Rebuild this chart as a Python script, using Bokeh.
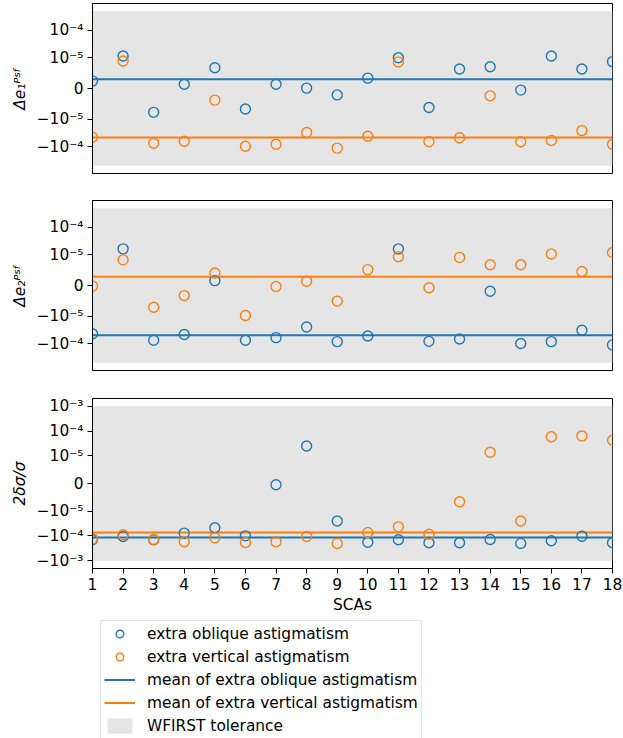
import numpy as np
from bokeh.plotting import figure
from bokeh.layouts import column
from bokeh.models import FixedTicker, Legend, LegendItem, Range1d
from bokeh.embed import file_html
from bokeh.resources import INLINE

# ---------------- data ----------------
scas = list(range(1, 19))
sca_labels = [str(s) for s in scas]

e1_oblique = [2.5e-6, 1.18e-5, -7.8e-6, 1.4e-6, 6.8e-6, -6.7e-6, 1.4e-6, 1.3e-7, -2.1e-6,
              3.4e-6, 1.02e-5, -6.2e-6, 6.4e-6, 7.1e-6, -5.2e-7, 1.18e-5, 6.4e-6, 8.8e-6]
e1_vertical = [-4.6e-5, 9.0e-6, -7.6e-5, -6.4e-5, -3.8e-6, -9.7e-5, -8.2e-5, -3.1e-5, -1.14e-4,
               -4.2e-5, 8.7e-6, -6.6e-5, -4.8e-5, -2.4e-6, -6.7e-5, -6.0e-5, -2.6e-5, -8.2e-5]
e2_oblique = [-4.4e-5, 1.66e-5, -7.6e-5, -4.7e-5, 1.6e-6, -7.6e-5, -6.1e-5, -2.5e-5, -8.5e-5,
              -5.3e-5, 1.66e-5, -8.3e-5, -6.8e-5, -1.9e-6, -1.0e-4, -8.5e-5, -3.3e-5, -1.12e-4]
e2_vertical = [-2e-7, 8.4e-6, -7.1e-6, -3.3e-6, 4.1e-6, -9.8e-6, -3e-7, 1.4e-6, -5.1e-6,
               5.2e-6, 9.4e-6, -7.5e-7, 9.2e-6, 6.8e-6, 6.8e-6, 1.09e-5, 4.6e-6, 1.22e-5]
size_oblique = [-1.43e-4, -1.06e-4, -1.43e-4, -7.7e-5, -4.7e-5, -9.9e-5, -4.7e-7, 2.5e-5, -2.5e-5,
                -1.79e-4, -1.43e-4, -1.89e-4, -1.89e-4, -1.39e-4, -2.0e-4, -1.57e-4, -1.03e-4, -1.89e-4]
size_vertical = [-1.31e-4, -9.0e-5, -1.39e-4, -1.72e-4, -1.19e-4, -1.84e-4, -1.72e-4, -1.06e-4, -2.0e-4,
                 -7.3e-5, -4.3e-5, -8.5e-5, -6.6e-6, 1.4e-5, -2.5e-5, 5.9e-5, 6.3e-5, 4.3e-5]

mean_e1 = [3.06e-6, -4.7e-5]     # oblique, vertical
mean_e2 = [-5.0e-5, 2.9e-6]
mean_size = [-1.16e-4, -7.3e-5]

tolerance_e = 5e-4
tolerance_size = 1e-3

ticks_e = [-1e-4, -1e-5, 0, 1e-5, 1e-4]
labels_e = ["\u221210\u207b\u2074", "\u221210\u207b\u2075", "0", "10\u207b\u2075", "10\u207b\u2074"]
ticks_s = [-1e-3, -1e-4, -1e-5, 0, 1e-5, 1e-4, 1e-3]
labels_s = ["\u221210\u207b\u00b3", "\u221210\u207b\u2074", "\u221210\u207b\u2075", "0",
            "10\u207b\u2075", "10\u207b\u2074", "10\u207b\u00b3"]

legend_labels = ["extra oblique astigmatism", "extra vertical astigmatism",
                 "mean of extra oblique astigmatism", "mean of extra vertical astigmatism",
                 "WFIRST tolerance"]

BLUE = "#1f77b4"
ORANGE = "#ff7f0e"
GREY = "#e5e5e5"
FS = "15.4px"
LINTHRESH = 1e-5


def symlog(v):
    v = np.asarray(v, dtype=float)
    adj = 1.0 / (1.0 - 0.1)
    a = np.abs(v)
    out = np.where(a <= LINTHRESH, a / LINTHRESH * adj,
                   adj + np.log10(np.maximum(a, LINTHRESH) / LINTHRESH))
    return np.sign(v) * out


def add_marks(p, oblique, vertical, means, tol):
    tt = float(symlog(tol))
    band = p.varea(x=[scas[0], scas[-1]], y1=[-tt, -tt], y2=[tt, tt], fill_color=GREY)
    l1 = p.line(x=[scas[0], scas[-1]], y=[float(symlog(means[0]))] * 2,
                line_color=BLUE, line_width=2)
    l2 = p.line(x=[scas[0], scas[-1]], y=[float(symlog(means[1]))] * 2,
                line_color=ORANGE, line_width=2)
    c1 = p.scatter(x=scas, y=symlog(oblique), marker="circle", size=10,
                   fill_color=None, line_color=BLUE, line_width=1.4)
    c2 = p.scatter(x=scas, y=symlog(vertical), marker="circle", size=10,
                   fill_color=None, line_color=ORANGE, line_width=1.4)
    return c1, c2, l1, l2, band


def make_panel(oblique, vertical, means, tol, ticks, labels, ylabel, top, bottom, show_x):
    lim = float(symlog(tol)) * 1.1
    p = figure(width=623, frame_width=520, frame_height=170,
               min_border_left=92, min_border_right=11,
               min_border_top=top, min_border_bottom=bottom,
               x_range=Range1d(scas[0], scas[-1]), y_range=Range1d(-lim, lim),
               output_backend="svg", toolbar_location=None)
    p.grid.visible = False
    p.outline_line_color = "black"
    p.outline_line_width = 1
    p.background_fill_color = "white"
    p.border_fill_color = "white"

    add_marks(p, oblique, vertical, means, tol)

    tpos = [float(t) for t in symlog(ticks)]
    p.yaxis.ticker = FixedTicker(ticks=tpos)
    p.yaxis.major_label_overrides = {t: lab for t, lab in zip(tpos, labels)}
    p.yaxis.minor_tick_line_color = None
    p.yaxis.major_tick_in = 0
    p.yaxis.major_tick_out = 5
    p.yaxis.major_label_text_font = "DejaVu Sans"
    p.yaxis.major_label_text_font_size = FS
    p.yaxis.major_label_text_color = "black"
    p.yaxis.major_label_standoff = 4
    p.yaxis.axis_label = ylabel
    p.yaxis.axis_label_text_font = "DejaVu Sans"
    p.yaxis.axis_label_text_font_size = FS
    p.yaxis.axis_label_text_font_style = "italic"
    p.yaxis.axis_label_text_color = "black"
    p.yaxis.axis_label_standoff = 5
    p.yaxis.axis_line_color = "black"

    if show_x:
        p.xaxis.ticker = FixedTicker(ticks=scas)
        p.xaxis.major_label_overrides = {s: lab for s, lab in zip(scas, sca_labels)}
        p.xaxis.minor_tick_line_color = None
        p.xaxis.major_tick_in = 0
        p.xaxis.major_tick_out = 5
        p.xaxis.major_label_text_font = "DejaVu Sans"
        p.xaxis.major_label_text_font_size = FS
        p.xaxis.major_label_text_color = "black"
        p.xaxis.major_label_standoff = 4
        p.xaxis.axis_label = "SCAs"
        p.xaxis.axis_label_text_font = "DejaVu Sans"
        p.xaxis.axis_label_text_font_size = FS
        p.xaxis.axis_label_text_font_style = "normal"
        p.xaxis.axis_label_text_color = "black"
        p.xaxis.axis_label_standoff = 3
    else:
        p.xaxis.visible = False
    return p


p1 = make_panel(e1_oblique, e1_vertical, mean_e1, tolerance_e, ticks_e, labels_e,
                "\u0394e\u2081\u1d3e\u02e2\u1da0", 3, 24, False)
p2 = make_panel(e2_oblique, e2_vertical, mean_e2, tolerance_e, ticks_e, labels_e,
                "\u0394e\u2082\u1d3e\u02e2\u1da0", 3, 24, False)
p3 = make_panel(size_oblique, size_vertical, mean_size, tolerance_size, ticks_s, labels_s,
                "2\u03b4\u03c3/\u03c3", 4, 46, True)

# legend strip below the panels: same series, with its view set away from the data
pl = figure(width=623, height=124, min_border=0,
            x_range=Range1d(-100, -99), y_range=Range1d(-100, -99),
            output_backend="svg", toolbar_location=None)
pl.axis.visible = False
pl.grid.visible = False
pl.outline_line_color = None
pl.background_fill_color = "white"
pl.border_fill_color = "white"
keys = add_marks(pl, size_oblique, size_vertical, mean_size, tolerance_size)

legend = Legend(items=[LegendItem(label=lab, renderers=[rr])
                       for lab, rr in zip(legend_labels, keys)])
legend.location = (8, 1)
legend.orientation = "vertical"
legend.label_text_font = "DejaVu Sans"
legend.label_text_font_size = FS
legend.label_text_color = "black"
legend.label_height = 19
legend.glyph_height = 19
legend.glyph_width = 31
legend.spacing = 4
legend.padding = 3
legend.margin = 0
legend.label_standoff = 12
legend.border_line_color = "#cccccc"
legend.border_line_width = 1
legend.background_fill_alpha = 0.8
pl.add_layout(legend)

layout = column(p1, p2, p3, pl, spacing=0)
with open("out.html", "w") as f:
    f.write(file_html(layout, INLINE))
